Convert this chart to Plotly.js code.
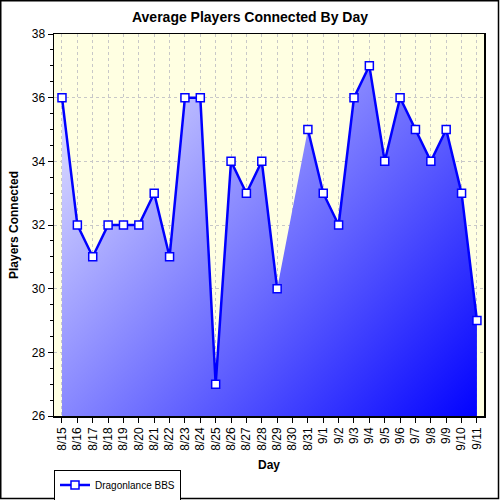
<!DOCTYPE html>
<html>
<head>
<meta charset="utf-8">
<script src="https://cdn.plot.ly/plotly-3.0.1.min.js"></script>
<style>html,body{margin:0;padding:0;background:#fff}</style>
</head>
<body>
<div id="chart" style="width:500px;height:500px"></div>
<script>
const days = ["8/15","8/16","8/17","8/18","8/19","8/20","8/21","8/22","8/23","8/24","8/25","8/26","8/27","8/28","8/29","8/30","8/31","9/1","9/2","9/3","9/4","9/5","9/6","9/7","9/8","9/9","9/10","9/11"];
const players = [36,32,31,32,32,32,33,31,36,36,27,34,33,34,30,null,35,33,32,36,37,34,36,35,34,35,33,29];
const seriesName = "Dragonlance BBS";
const chartTitle = "Average Players Connected By Day";
const xTitle = "Day";
const yTitle = "Players Connected";

const M = {l:54, r:16, t:34, b:84, autoexpand: false};
const W = 500, H = 500;
const PW = W - M.l - M.r, PH = H - M.t - M.b;
const FONT = "Liberation Sans, Arial, sans-serif";

const fillTrace = {
  x: days, y: players, type: "scatter", mode: "none",
  fill: "tozeroy", connectgaps: true,
  fillgradient: {type: "horizontal", colorscale: [[0, "rgb(0,0,255)"], [1, "rgb(246,246,255)"]]},
  fillcolor: "rgb(120,120,255)",
  showlegend: false, hoverinfo: "skip"
};
const lineTrace = {
  x: days, y: players, type: "scatter", mode: "lines+markers",
  name: seriesName, connectgaps: false,
  line: {color: "#0000ff", width: 2.5},
  marker: {symbol: "square", size: 8, color: "#ffffff", line: {color: "#0000ff", width: 1.5}}
};

function px2x(p){ return (p - M.l) / PW; }
function px2y(p){ return (H - M.b - p) / PH; }

const layout = {
  width: W, height: H,
  margin: M,
  paper_bgcolor: "#ffffff",
  plot_bgcolor: "rgb(255,255,226)",
  font: {family: FONT, size: 12, color: "#000"},
  title: {text: "<b>" + chartTitle + "</b>", font: {family: FONT, size: 14, color: "#000"},
          x: 0.5, xref: "container", y: 1 - 17/H, yref: "container", yanchor: "middle"},
  showlegend: true,
  legend: {x: 0, xanchor: "left", y: px2y(485), yanchor: "middle",
           bgcolor: "#fff", bordercolor: "#000", borderwidth: 1,
           font: {family: FONT, size: 10, color: "#000"}},
  xaxis: {
    type: "category", range: [-0.52, 27.46], autorange: false,
    tickangle: -90, tickfont: {family: FONT, size: 12},
    ticks: "outside", ticklen: 5, tickcolor: "#000", tickwidth: 1,
    showline: true, linecolor: "#000", linewidth: 1.5, mirror: true,
    showgrid: true, gridcolor: "#c8c8c8", griddash: "dot", gridwidth: 1,
    zeroline: false, automargin: false,
    title: {text: "<b>" + xTitle + "</b>", font: {family: FONT, size: 12}, standoff: 11}
  },
  yaxis: {
    range: [26, 38], autorange: false, dtick: 2, tick0: 26,
    tickfont: {family: FONT, size: 12},
    ticks: "outside", ticklen: 5, tickcolor: "#000", tickwidth: 1,
    minor: {dtick: 0.5, ticks: "outside", ticklen: 3, tickcolor: "#000", showgrid: false},
    showline: true, linecolor: "#000", linewidth: 1.5, mirror: true,
    showgrid: true, gridcolor: "#c8c8c8", griddash: "dot", gridwidth: 1,
    zeroline: false, automargin: false,
    title: {text: "<b>" + yTitle + "</b>", font: {family: FONT, size: 12}, standoff: 10}
  },
  xaxis2: {
    overlaying: "x", side: "top", anchor: "y", range: [-0.52, 27.46], autorange: false,
    tickmode: "linear", tick0: 0, dtick: 1, ticks: "inside", ticklen: 4, tickcolor: "#000",
    showticklabels: false, showgrid: false, zeroline: false, showline: false
  },
  yaxis2: {
    overlaying: "y", side: "right", anchor: "x", range: [26, 38], autorange: false,
    tickmode: "linear", tick0: 26, dtick: 0.5, ticks: "inside", ticklen: 4, tickcolor: "#000",
    showticklabels: false, showgrid: false, zeroline: false, showline: false
  },
  shapes: [{
    type: "rect", xref: "paper", yref: "paper",
    x0: px2x(0.75), x1: px2x(498.5), y0: px2y(498.5), y1: px2y(0.75),
    line: {color: "#000", width: 1.5}, fillcolor: "rgba(0,0,0,0)", layer: "above"
  }]
};

const gd = document.getElementById("chart");
Plotly.newPlot(gd, [fillTrace, lineTrace], layout, {displayModeBar: false, staticPlot: true}).then(function(){
  // turn the horizontal gradient into a diagonal one across the plot area
  gd.querySelectorAll("linearGradient").forEach(function(g){
    g.setAttribute("gradientUnits", "userSpaceOnUse");
    g.setAttribute("x1", "0"); g.setAttribute("y1", "0");
    g.setAttribute("x2", String(PW)); g.setAttribute("y2", String(PH));
  });
});
</script>
</body>
</html>
